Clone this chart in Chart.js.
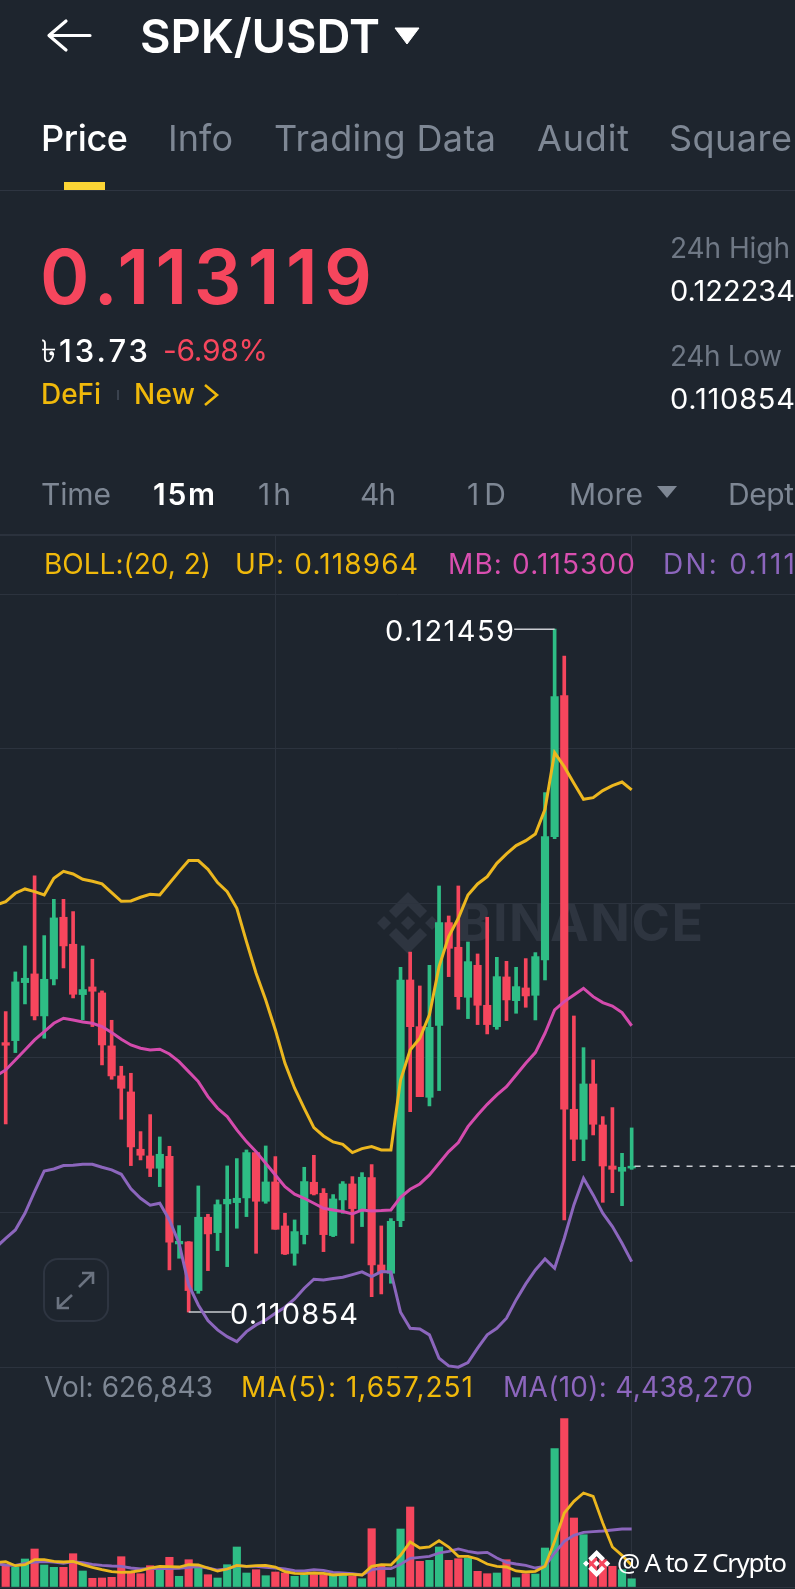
<!DOCTYPE html>
<html>
<head>
<meta charset="utf-8">
<title>SPK/USDT</title>
<script src="https://cdn.jsdelivr.net/npm/chart.js@4"></script>
<style>
html,body{margin:0;padding:0;background:#1e252e;}
#page{position:relative;width:795px;height:1589px;overflow:hidden;background:#1e252e;font-family:Inter,"Noto Sans",sans-serif;}
canvas{position:absolute;left:0;}
.t{position:absolute;white-space:nowrap;line-height:1;transform:translateY(-50%);z-index:3;}
.gray{color:#7e8794;}
.dim{color:#6f7885;}
.white{color:#fff;}
.red{color:#f6465d;}
.gold{color:#f0b90b;}
.pink{color:#d94fb0;}
.purple{color:#8c66bd;}
.rule{position:absolute;left:0;width:795px;z-index:1;}
svg{position:absolute;left:0;top:0;}
</style>
</head>
<body>
<div id="page">
  <div class="rule" style="top:190px;height:1px;background:#2e3541"></div>
  <div class="rule" style="top:534px;height:2px;background:#2b323d"></div>
  <div style="position:absolute;left:64px;top:182px;width:41px;height:8px;background:#fcd535"></div>

  <!-- watermark sits under the charts -->
  <svg width="795" height="1589" style="z-index:0">
    <g transform="translate(377,892) scale(0.49)" fill="#2e3540"><path d="M38.73 53.2l24.59-24.58 24.6 24.6 14.3-14.31L63.32 0 24.43 38.9l14.3 14.3zM0 63.31l14.3-14.31 14.31 14.31-14.31 14.3zM38.73 73.41l24.59 24.59 24.6-24.6 14.31 14.29-38.9 38.91-38.91-38.88-.02-.02zM98.01 63.31l14.3-14.31 14.31 14.3-14.31 14.32zM77.83 63.3L63.32 48.78 52.59 59.51l-1.24 1.23-2.54 2.54 14.51 14.5 14.51-14.47z"/></g>
  </svg>
  <span class="t" data-w="246" style="left:457px;top:923px;font-size:52px;font-weight:700;color:#2e3540;z-index:0">BINANCE</span>

  <canvas id="priceChart" width="795" height="834" style="top:535px;z-index:1"></canvas>
  <canvas id="volChart" width="795" height="220" style="top:1369px;z-index:1"></canvas>

  <!-- header icons, expand button, bottom mark -->
  <svg width="795" height="1589" style="z-index:2" fill="none">
    <path d="M66 21L49 35.5L66 50M50 35.5H90" stroke="#fff" stroke-width="3.2" stroke-linecap="round" stroke-linejoin="round"/>
    <path d="M395 28H419L407 44Z" fill="#fff" stroke="#fff" stroke-width="1"/>
    <path d="M657 486H677L667 498Z" fill="#7e8794"/>
    <path d="M205 385L217 395L205 405" stroke="#f0b90b" stroke-width="2.6"/>
    <rect x="117" y="390" width="2" height="10" fill="#3a424e"/>
    <rect x="44" y="1259" width="64" height="62" rx="14" stroke="#2e3541" stroke-width="2"/>
    <path d="M58 1308L72 1295M58 1297V1308H69M79 1287L93 1273M82 1273H93V1284" stroke="#6b7380" stroke-width="2.6"/>
    <g transform="translate(583,1550) scale(0.215)" fill="#fff"><path d="M38.73 53.2l24.59-24.58 24.6 24.6 14.3-14.31L63.32 0 24.43 38.9l14.3 14.3zM0 63.31l14.3-14.31 14.31 14.31-14.31 14.3zM38.73 73.41l24.59 24.59 24.6-24.6 14.31 14.29-38.9 38.91-38.91-38.88-.02-.02zM98.01 63.31l14.3-14.31 14.31 14.3-14.31 14.32zM77.83 63.3L63.32 48.78 52.59 59.51l-1.24 1.23-2.54 2.54 14.51 14.5 14.51-14.47z"/></g>
  </svg>

  <span class="t white" data-w="240" style="left:140px;top:35px;font-size:47px;font-weight:600">SPK/USDT</span>

  <span class="t white" data-w="87" style="left:41px;top:138px;font-size:36px;font-weight:500">Price</span>
  <span class="t gray" data-w="65" style="left:168px;top:138px;font-size:36px">Info</span>
  <span class="t gray" data-w="222" style="left:274px;top:138px;font-size:36px">Trading Data</span>
  <span class="t gray" data-w="92" style="left:537px;top:138px;font-size:36px">Audit</span>
  <span class="t gray" data-w="123" style="left:669px;top:138px;font-size:36px">Square</span>

  <span class="t red" data-w="332" style="left:40px;top:276px;font-size:75px;font-weight:600">0.113119</span>
  <span class="t white" data-w="107" style="left:41px;top:350px;font-size:31px;font-weight:500">৳13.73</span>
  <span class="t red" data-w="105" style="left:163px;top:350px;font-size:30px">-6.98%</span>
  <span class="t gold" data-w="60" style="left:41px;top:394px;font-size:28px;font-weight:500">DeFi</span>
  <span class="t gold" data-w="61" style="left:134px;top:394px;font-size:28px;font-weight:500">New</span>

  <span class="t dim" data-w="120" style="left:670px;top:248px;font-size:28px">24h High</span>
  <span class="t white" data-w="125" style="left:670px;top:290px;font-size:29px">0.122234</span>
  <span class="t dim" data-w="112" style="left:670px;top:356px;font-size:28px">24h Low</span>
  <span class="t white" data-w="125" style="left:670px;top:398px;font-size:29px">0.110854</span>

  <span class="t gray" data-w="70" style="left:41px;top:494px;font-size:30px">Time</span>
  <span class="t white" data-w="62" style="left:153px;top:494px;font-size:30px;font-weight:600">15m</span>
  <span class="t gray" data-w="33" style="left:258px;top:494px;font-size:30px">1h</span>
  <span class="t gray" data-w="36" style="left:360px;top:494px;font-size:30px">4h</span>
  <span class="t gray" data-w="39" style="left:467px;top:494px;font-size:30px">1D</span>
  <span class="t gray" data-w="74" style="left:569px;top:494px;font-size:30px">More</span>
  <span class="t gray" data-w="66" style="left:728px;top:494px;font-size:30px">Dept</span>

  <span class="t gold" data-w="167" style="left:44px;top:564px;font-size:28px">BOLL:(20, 2)</span>
  <span class="t gold" data-w="183" style="left:235px;top:564px;font-size:28px">UP: 0.118964</span>
  <span class="t pink" data-w="187" style="left:448px;top:564px;font-size:28px">MB: 0.115300</span>
  <span class="t purple" data-w="132" style="left:663px;top:564px;font-size:28px">DN: 0.111</span>

  <span class="t white" data-w="129" style="left:385px;top:630px;font-size:29px">0.121459</span>
  <span class="t white" data-w="128" style="left:230px;top:1313px;font-size:29px">0.110854</span>

  <span class="t gray" data-w="169" style="left:44px;top:1387px;font-size:28px">Vol: 626,843</span>
  <span class="t gold" data-w="232" style="left:241px;top:1387px;font-size:28px">MA(5): 1,657,251</span>
  <span class="t purple" data-w="250" style="left:503px;top:1387px;font-size:28px">MA(10): 4,438,270</span>

  <span class="t white" data-w="170" style="left:617px;top:1562px;font-size:26px;font-family:'Noto Sans',sans-serif">@ A to Z Crypto</span>
</div>

<script>
// 15m candles
var opens = [0.115038,0.115069,0.115970,0.116105,0.115453,0.116027,0.116985,0.116566,0.115784,0.115903,0.115810,0.114987,0.114521,0.114272,0.113382,0.113278,0.113087,0.113273,0.111911,0.111943,0.111187,0.112326,0.112087,0.112533,0.112553,0.112626,0.113330,0.112574,0.112874,0.112191,0.111766,0.112056,0.112869,0.112698,0.112041,0.112595,0.112843,0.112429,0.112942,0.111585,0.111456,0.112273,0.116011,0.115286,0.114189,0.115307,0.116902,0.116519,0.115742,0.116239,0.115618,0.115286,0.116058,0.115690,0.115887,0.115773,0.116322,0.118237,0.120427,0.114003,0.113537,0.114396,0.113759,0.113122,0.113040,0.113090];
var closes = [0.114997,0.115981,0.116038,0.115453,0.116022,0.116975,0.116540,0.115789,0.115862,0.115836,0.115002,0.114521,0.114329,0.113418,0.113289,0.113087,0.113304,0.111937,0.111953,0.111187,0.112326,0.112067,0.112522,0.112605,0.112621,0.113330,0.112574,0.112874,0.112139,0.111756,0.112103,0.112880,0.112688,0.112056,0.112610,0.112843,0.112460,0.112947,0.111585,0.111482,0.112263,0.116011,0.115286,0.114199,0.115276,0.116902,0.116503,0.115752,0.116296,0.115618,0.115318,0.116063,0.115701,0.115908,0.115763,0.116374,0.118237,0.120412,0.114003,0.113537,0.114396,0.113770,0.113122,0.113071,0.113102,0.113119];
var highs = [0.115520,0.116136,0.116540,0.117627,0.116700,0.117264,0.117264,0.117073,0.116540,0.116333,0.115841,0.115385,0.114671,0.114562,0.113656,0.113920,0.113573,0.113428,0.112196,0.111948,0.112812,0.112372,0.112595,0.113123,0.113237,0.113371,0.113330,0.113433,0.113268,0.112388,0.112284,0.113102,0.113288,0.112771,0.112678,0.112880,0.112957,0.113019,0.113144,0.112191,0.112305,0.116208,0.116446,0.115918,0.116239,0.117471,0.117005,0.117471,0.116601,0.116415,0.116985,0.116363,0.116301,0.116208,0.116343,0.116436,0.118921,0.121459,0.121043,0.115452,0.114960,0.114769,0.113889,0.114029,0.113319,0.113713];
var lows = [0.113775,0.114883,0.115639,0.115390,0.115106,0.115934,0.116198,0.115732,0.115390,0.115287,0.114692,0.114469,0.113848,0.113128,0.113216,0.112957,0.112802,0.111508,0.111689,0.110854,0.111145,0.111497,0.111808,0.111559,0.112155,0.112336,0.111766,0.112543,0.112139,0.111746,0.111580,0.111911,0.112672,0.111792,0.112025,0.112388,0.111922,0.112181,0.111093,0.111135,0.111301,0.112180,0.113966,0.114199,0.114054,0.114293,0.116063,0.115556,0.115411,0.115318,0.115173,0.115245,0.115380,0.115494,0.115587,0.115390,0.116011,0.118206,0.112284,0.113205,0.113205,0.113604,0.112558,0.112708,0.112506,0.113070];
var volumes = [1706000,1530000,2143000,2908000,1683000,1507000,1507000,2548000,1224000,666000,689000,742000,2319000,1071000,1018000,1630000,1377000,2273000,819000,2089000,1454000,941000,689000,1706000,3061000,1071000,1324000,865000,1148000,1071000,819000,918000,941000,941000,895000,895000,819000,635000,4461000,1584000,712000,4438000,6122000,1967000,2043000,3061000,2043000,2166000,2219000,1201000,1018000,1071000,2089000,712000,1018000,995000,2984000,10583000,12879000,5280000,4002000,2219000,2089000,1584000,1324000,626843];

// indicator lines start one bar left of the first candle, off the edge of the page
var bollUp = [0.117176,0.117228,0.117358,0.117425,0.117384,0.117332,0.117591,0.117699,0.117658,0.117575,0.117544,0.117503,0.117368,0.117233,0.117239,0.117296,0.117342,0.117332,0.117513,0.117694,0.117865,0.117865,0.117730,0.117523,0.117383,0.117124,0.116607,0.116115,0.115701,0.115235,0.114717,0.114329,0.114018,0.113718,0.113588,0.113495,0.113459,0.113330,0.113392,0.113423,0.113371,0.113371,0.114458,0.114924,0.115105,0.115468,0.116218,0.116684,0.116969,0.117331,0.117502,0.117616,0.117823,0.117968,0.118098,0.118175,0.118279,0.118662,0.119542,0.119324,0.119066,0.118817,0.118843,0.118952,0.119029,0.119086,0.118964];
var bollMid = [0.114521,0.114614,0.114769,0.114924,0.115080,0.115209,0.115339,0.115416,0.115390,0.115359,0.115339,0.115287,0.115194,0.115090,0.115002,0.114950,0.114924,0.114935,0.114862,0.114743,0.114588,0.114433,0.114200,0.114018,0.113889,0.113682,0.113501,0.113345,0.113164,0.112983,0.112802,0.112683,0.112621,0.112543,0.112465,0.112439,0.112414,0.112377,0.112439,0.112424,0.112429,0.112439,0.112636,0.112760,0.112843,0.112983,0.113164,0.113345,0.113485,0.113733,0.113915,0.114080,0.114225,0.114355,0.114536,0.114717,0.114883,0.115183,0.115545,0.115675,0.115778,0.115882,0.115752,0.115659,0.115607,0.115504,0.115300];
var bollDn = [0.111860,0.111999,0.112129,0.112388,0.112724,0.113045,0.113076,0.113128,0.113133,0.113149,0.113149,0.113102,0.113061,0.112993,0.112766,0.112621,0.112512,0.112543,0.112284,0.111922,0.111275,0.110964,0.110721,0.110576,0.110472,0.110395,0.110550,0.110654,0.110731,0.110835,0.110928,0.111057,0.111223,0.111363,0.111353,0.111373,0.111394,0.111435,0.111477,0.111404,0.111482,0.111477,0.110850,0.110602,0.110592,0.110499,0.110136,0.110017,0.109997,0.110069,0.110292,0.110499,0.110602,0.110758,0.111042,0.111291,0.111508,0.111679,0.111534,0.112000,0.112518,0.112932,0.112673,0.112388,0.112181,0.111922,0.111636];
var ma5 = [1888000,1939000,1632000,1709000,2092000,2092000,1964000,1913000,1964000,1709000,1505000,1326000,1173000,1122000,1148000,1250000,1454000,1581000,1556000,1530000,1709000,1683000,1454000,1224000,1377000,1658000,1581000,1632000,1658000,1530000,1173000,1046000,1020000,1071000,1046000,918000,969000,969000,918000,1581000,1709000,1683000,2423000,3443000,2984000,3061000,3545000,3061000,2347000,2347000,2143000,1760000,1581000,1530000,1224000,1148000,1199000,1581000,3494000,5663000,6555000,7193000,6938000,4897000,3061000,2423000,1657251];
var ma10 = [1785000,1683000,1658000,1811000,1913000,1939000,1913000,1811000,1939000,1862000,1734000,1658000,1607000,1581000,1454000,1377000,1403000,1403000,1403000,1428000,1505000,1556000,1454000,1301000,1377000,1632000,1581000,1581000,1505000,1454000,1377000,1250000,1224000,1326000,1275000,1122000,1071000,1020000,918000,1326000,1428000,1403000,1734000,2194000,2270000,2347000,2602000,2729000,2908000,2729000,2602000,2653000,2219000,1888000,1760000,1658000,1454000,1581000,2602000,3494000,3954000,4183000,4234000,4285000,4362000,4438000,4438270];

var priceTicks = [0.110,0.1124,0.1148,0.1172,0.1196,0.122];
var timeTicks = [28,65];
var lastPrice = 0.113119;
var highMark = [[57,0.121459],[52.8,0.121459]];
var lowMark = [[19,0.110854],[23.4,0.110854]];
var lastEnd = 82;

var green = '#2ebd85', red = '#f6465d';
var gold = '#ecb71f', pink = '#d44bad', purple = '#8c66bd';
var gridColor = '#2c333e';

Chart.defaults.animation = false;

function candleColors() {
  return closes.map(function (c, i) { return c >= opens[i] ? green : red; });
}
function bars(values) {
  return values.map(function (v, i) { return {x: i, y: v}; });
}
function ranges(a, b) {
  return a.map(function (v, i) { return {x: i, y: [v, b[i]]}; });
}
function linePts(values) {
  return values.map(function (v, i) { return {x: i - 1, y: v}; });
}
function pairPts(pts) {
  return pts.map(function (p) { return {x: p[0], y: p[1]}; });
}
function lineSet(data, color, width, order) {
  return {type: 'line', data: data, borderColor: color, borderWidth: width,
    pointRadius: 0, tension: 0, fill: false, order: order};
}
function xAxis() {
  return {
    type: 'linear', min: -0.592, max: 81.96, offset: false,
    afterBuildTicks: function (s) { s.ticks = timeTicks.map(function (v) { return {value: v}; }); },
    ticks: {display: false}, border: {display: false},
    grid: {color: gridColor, lineWidth: 1, drawTicks: false, offset: false}
  };
}

var colors = candleColors();

new Chart(document.getElementById('priceChart'), {
  type: 'bar',
  data: {
    datasets: [
      {data: ranges(lows, highs), backgroundColor: colors, barThickness: 3, grouped: false, order: 4},
      {data: ranges(opens, closes), backgroundColor: colors, barThickness: 7.5, grouped: false, order: 3},
      lineSet(pairPts(highMark), '#c9ccd1', 1.5, 2),
      lineSet(pairPts(lowMark), '#c9ccd1', 1.5, 2),
      Object.assign(lineSet(pairPts([[65.3, lastPrice], [lastEnd, lastPrice]]), '#c9ccd1', 1.5, 2), {borderDash: [6, 7]}),
      lineSet(linePts(bollUp), gold, 3, 1),
      lineSet(linePts(bollMid), pink, 3, 1),
      lineSet(linePts(bollDn), purple, 3, 1)
    ]
  },
  options: {
    responsive: false,
    layout: {padding: 0},
    plugins: {legend: {display: false}, tooltip: {enabled: false}},
    scales: {
      x: xAxis(),
      y: {
        min: 0.109969, max: 0.122922,
        afterBuildTicks: function (s) { s.ticks = priceTicks.map(function (v) { return {value: v}; }); },
        ticks: {display: false}, border: {display: false},
        grid: {color: gridColor, lineWidth: 1, drawTicks: false}
      }
    }
  }
});

new Chart(document.getElementById('volChart'), {
  type: 'bar',
  data: {
    datasets: [
      {data: bars(volumes), backgroundColor: colors, barThickness: 7.5, order: 2},
      lineSet(linePts(ma5), gold, 2.8, 1),
      lineSet(linePts(ma10), purple, 2.8, 1)
    ]
  },
  options: {
    responsive: false,
    layout: {padding: {bottom: 2}},
    plugins: {legend: {display: false}, tooltip: {enabled: false}},
    scales: {
      x: xAxis(),
      y: {
        min: 0, max: 16680000,
        afterBuildTicks: function (s) { s.ticks = [{value: 0}]; },
        ticks: {display: false}, border: {display: false},
        grid: {color: gridColor, lineWidth: 1, drawTicks: false}
      }
    }
  }
});

// squeeze each label to the width it has in the picture
document.querySelectorAll('[data-w]').forEach(function (el) {
  var want = parseFloat(el.getAttribute('data-w'));
  var got = el.getBoundingClientRect().width;
  el.style.letterSpacing = ((want - got) / (el.textContent.length - 1)) + 'px';
});
</script>
</body>
</html>
